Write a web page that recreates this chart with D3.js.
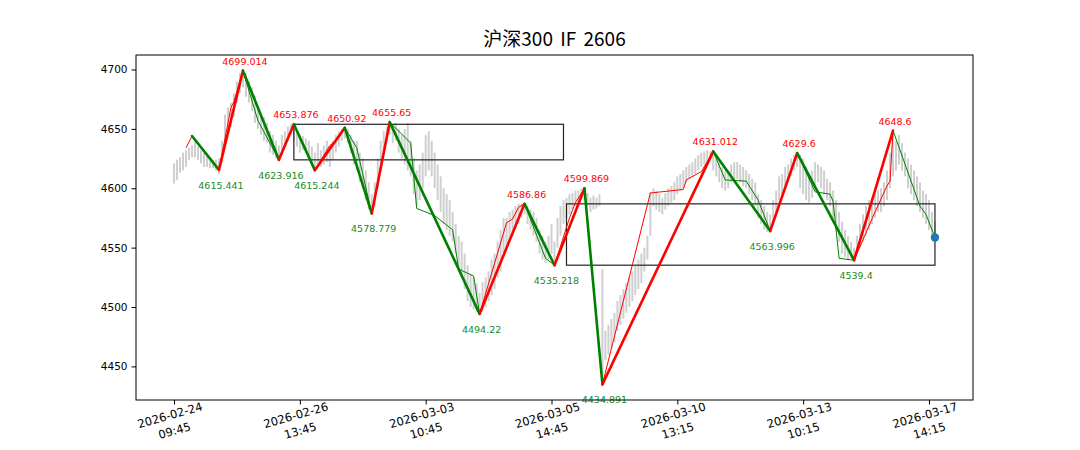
<!DOCTYPE html>
<html><head><meta charset="utf-8">
<script src="https://cdn.jsdelivr.net/npm/d3@7"></script>
<style>body{margin:0;background:#fff}svg{display:block}</style>
</head><body><div id="chart"></div>
<script>
// ---- data ----
const chartTitle = "沪深300 IF 2606";
const xTickIdx = [0, 42, 84, 126, 168, 210, 252];
const xTickLabels = ["2026-02-24\n09:45", "2026-02-26\n13:45", "2026-03-03\n10:45", "2026-03-05\n14:45", "2026-03-10\n13:15", "2026-03-13\n10:15", "2026-03-17\n14:15"];
const yTicks = [4450, 4500, 4550, 4600, 4650, 4700];

// bar lows / highs, one per 15-min bar (16 per day)
const barLow = [
4604,4607,4613,4615,4618,4624,4626,4626,4624,4621,4618,4618,4617,4617,4615,4612,
4622,4635,4648,4652,4660,4672,4680,4685,4677,4672,4665,4655,4650,4645,4640,4638,
4630,4628,4625,4623,4628,4635,4640,4645,4640,4635,4630,4632,4630,4625,4620,4615,
4620,4618,4620,4622,4618,4624,4630,4635,4640,4642,4638,4630,4620,4615,4605,4600,
4590,4582,4579,4585,4600,4615,4630,4640,4645,4638,4640,4630,4625,4620,4615,4610,
4595,4585,4590,4600,4610,4615,4610,4600,4590,4580,4570,4565,4560,4555,4545,4530,
4525,4515,4505,4500,4498,4496,4494,4496,4500,4505,4510,4515,4525,4530,4545,4550,
4555,4560,4565,4570,4575,4578,4570,4565,4560,4555,4545,4540,4537,4540,4545,4535,
4550,4560,4570,4575,4578,4582,4585,4588,4590,4590,4585,4580,4582,4583,4585,4436,
4455,4460,4465,4470,4480,4485,4490,4495,4500,4505,4510,4515,4520,4530,4540,4560,
4585,4582,4580,4578,4582,4585,4588,4590,4595,4598,4600,4605,4608,4610,4612,4615,
4618,4620,4622,4625,4615,4610,4605,4600,4598,4600,4605,4605,4608,4605,4602,4600,
4595,4590,4585,4575,4570,4565,4563,4564,4570,4580,4590,4595,4600,4605,4610,4615,
4618,4600,4595,4590,4588,4592,4600,4605,4600,4595,4590,4585,4575,4565,4555,4545,
4542,4540,4541,4539,4545,4550,4555,4560,4565,4570,4575,4580,4580,4585,4590,4600,
4610,4615,4620,4615,4610,4600,4595,4590,4585,4580,4575,4570,4565,4560,4557];
const barHigh = [
4621,4624,4626,4630,4632,4634,4636,4640,4635,4632,4630,4628,4626,4624,4624,4625,
4640,4662,4668,4672,4680,4690,4697,4699,4697,4690,4685,4678,4668,4662,4660,4655,
4648,4645,4640,4636,4645,4648,4652,4654,4653,4648,4645,4644,4642,4640,4635,4630,
4638,4632,4636,4640,4636,4640,4645,4648,4650,4651,4650,4645,4640,4640,4630,4625,
4615,4605,4595,4605,4625,4640,4648,4652,4656,4653,4655,4650,4645,4650,4655,4640,
4625,4615,4620,4630,4645,4648,4640,4630,4620,4610,4600,4595,4590,4580,4570,4560,
4555,4545,4535,4528,4525,4520,4512,4521,4525,4530,4540,4545,4555,4565,4575,4575,
4580,4582,4585,4587,4587,4587,4585,4582,4580,4575,4565,4560,4555,4560,4570,4555,
4575,4585,4590,4592,4595,4596,4598,4598,4600,4600,4596,4592,4594,4592,4595,4532,
4480,4485,4490,4495,4505,4510,4515,4520,4525,4530,4535,4540,4545,4550,4560,4597,
4600,4598,4595,4592,4596,4600,4602,4605,4610,4612,4615,4618,4620,4622,4625,4628,
4630,4631,4632,4631,4628,4625,4622,4618,4615,4615,4620,4622,4622,4620,4618,4615,
4612,4608,4605,4595,4590,4585,4580,4578,4590,4598,4610,4612,4618,4620,4625,4628,
4630,4628,4625,4618,4612,4615,4622,4620,4618,4615,4608,4605,4598,4590,4580,4572,
4565,4560,4555,4550,4560,4570,4578,4585,4590,4592,4595,4598,4600,4605,4615,4630,
4648,4640,4645,4638,4630,4625,4620,4615,4610,4605,4598,4595,4590,4580,4572];

// main (thick) zigzag
const strokeIdx = [6, 15, 23, 35, 40, 47, 57, 66, 72, 102, 117, 127, 137, 143, 180, 199, 208, 227, 240];
const strokeVal = [4644, 4615.441, 4699.014, 4623.916, 4653.876, 4615.244, 4650.92, 4578.779, 4655.65, 4494.22, 4586.86, 4535.218, 4599.869, 4434.891, 4631.012, 4563.996, 4629.6, 4539.4, 4648.6];

// fine (thin) segments
const segIdx = [4, 6, 15, 19, 20, 23, 28, 35, 40, 47, 52, 54, 57, 61, 66, 72, 79, 81, 87, 93, 95, 100, 102, 111, 113, 115, 117, 124, 127, 132, 134, 137, 143, 159, 170, 171, 176, 180, 184, 191, 195, 199, 208, 214, 219, 220, 222, 227, 234, 238, 239, 240, 249, 251, 254];
const segVal = [4634, 4644, 4615.441, 4668, 4673, 4699.014, 4657, 4623.916, 4653.876, 4615.244, 4636, 4640, 4650.92, 4634, 4578.779, 4655.65, 4638, 4583, 4577, 4565, 4532, 4526, 4494.22, 4571, 4574, 4584, 4586.86, 4541, 4535.218, 4575, 4588, 4599.869, 4434.891, 4596, 4599, 4607, 4614, 4631.012, 4607, 4606, 4590, 4563.996, 4629.6, 4597, 4595, 4589, 4541, 4539.4, 4580, 4602, 4606, 4648.6, 4585, 4578, 4558.5];

// hubs (boxes)
const boxStart = [40, 131];
const boxEnd = [130, 254];
const boxTop = [4653.876, 4586.86];
const boxBottom = [4623.916, 4535.218];

const lastIdx = 254, lastVal = 4558.5;

// ---- drawing ----
const W = 1080, H = 450;
const L = 136, R = 973, T = 55, B = 400;
const n = barLow.length;
const xPad = (n - 1) * 0.05;
const x = d3.scaleLinear().domain([-xPad, n - 1 + xPad]).range([L, R]);
const yMin = 4434.891, yMax = 4699.014, yPad = (yMax - yMin) * 0.05;
const y = d3.scaleLinear().domain([yMin - yPad, yMax + yPad]).range([B, T]);

const svg = d3.select("#chart").append("svg").attr("width", W).attr("height", H)
  .style("font-family", "'DejaVu Sans', sans-serif");
svg.append("rect").attr("width", W).attr("height", H).attr("fill", "#fff");

const plot = svg.append("g");

// gray bars
plot.selectAll("rect.bar").data(d3.range(n)).join("rect")
  .attr("class", "bar")
  .attr("x", i => x(i) - 1)
  .attr("width", 2)
  .attr("y", i => y(barHigh[i]))
  .attr("height", i => Math.max(1, y(barLow[i]) - y(barHigh[i])))
  .attr("fill", "#cfcfcf");

// boxes
plot.selectAll("rect.box").data(boxStart).join("rect")
  .attr("class", "box")
  .attr("x", (d, k) => x(boxStart[k]))
  .attr("width", (d, k) => x(boxEnd[k]) - x(boxStart[k]))
  .attr("y", (d, k) => y(boxTop[k]))
  .attr("height", (d, k) => y(boxBottom[k]) - y(boxTop[k]))
  .attr("fill", "none").attr("stroke", "#222").attr("stroke-width", 1.2);

// thin segments
const thin = d3.range(segIdx.length - 1);
plot.selectAll("line.thin").data(thin).join("line")
  .attr("class", "thin")
  .attr("x1", k => x(segIdx[k])).attr("y1", k => y(segVal[k]))
  .attr("x2", k => x(segIdx[k + 1])).attr("y2", k => y(segVal[k + 1]))
  .attr("stroke", k => segVal[k + 1] > segVal[k] ? "#ff0000" : "#008000")
  .attr("stroke-width", 1);

// thick strokes
const thick = d3.range(strokeIdx.length - 1);
plot.selectAll("line.thick").data(thick).join("line")
  .attr("class", "thick")
  .attr("x1", k => x(strokeIdx[k])).attr("y1", k => y(strokeVal[k]))
  .attr("x2", k => x(strokeIdx[k + 1])).attr("y2", k => y(strokeVal[k + 1]))
  .attr("stroke", k => strokeVal[k + 1] > strokeVal[k] ? "#ff0000" : "#008000")
  .attr("stroke-width", 2.6).attr("stroke-linecap", "round");

// last point
plot.append("circle").attr("cx", x(lastIdx)).attr("cy", y(lastVal)).attr("r", 4.2).attr("fill", "#1f77b4");

// labels
const lbl = d3.range(1, strokeIdx.length);
plot.selectAll("text.lbl").data(lbl).join("text")
  .attr("class", "lbl")
  .attr("x", k => x(strokeIdx[k]) + 2)
  .attr("y", k => {
    const up = strokeVal[k] > strokeVal[k - 1];
    return up ? y(strokeVal[k]) - 6 : y(strokeVal[k]) + 19;
  })
  .attr("text-anchor", "middle")
  .attr("font-size", 9.5)
  .attr("fill", k => strokeVal[k] > strokeVal[k - 1] ? "#ff0000" : "#1a8a1a")
  .text(k => String(strokeVal[k]));

// axes frame
svg.append("rect").attr("x", L).attr("y", T).attr("width", R - L).attr("height", B - T)
  .attr("fill", "none").attr("stroke", "#000").attr("stroke-width", 1);

// y axis
const yAxis = svg.append("g").attr("transform", `translate(${L},0)`)
  .call(d3.axisLeft(y).tickValues(yTicks).tickSize(4.5).tickPadding(4).tickFormat(d3.format("d")));
yAxis.select(".domain").remove();
yAxis.selectAll("text").attr("font-size", 10.5).attr("font-family", "'DejaVu Sans', sans-serif").attr("fill", "#000");

// x axis
const xAxis = svg.append("g").attr("transform", `translate(0,${B})`)
  .call(d3.axisBottom(x).tickValues(xTickIdx).tickSize(4.5).tickFormat(""));
xAxis.select(".domain").remove();
xTickIdx.forEach((ti, k) => {
  const lines = xTickLabels[k].split("\n");
  const t = svg.append("text")
    .attr("transform", `translate(${x(ti) - 2},${B + 22}) rotate(-16)`)
    .attr("text-anchor", "middle").attr("font-size", 11.5).attr("fill", "#000");
  lines.forEach((s, j) => t.append("tspan").attr("x", 0).attr("y", j === 0 ? -3 : 13).text(s));
});

// title
svg.append("text").attr("x", (L + R) / 2).attr("y", 46).attr("text-anchor", "middle")
  .attr("font-family", "'Noto Sans CJK SC', sans-serif").attr("font-size", 19)
  .attr("word-spacing", 3)
  .text(chartTitle);
</script></body></html>
